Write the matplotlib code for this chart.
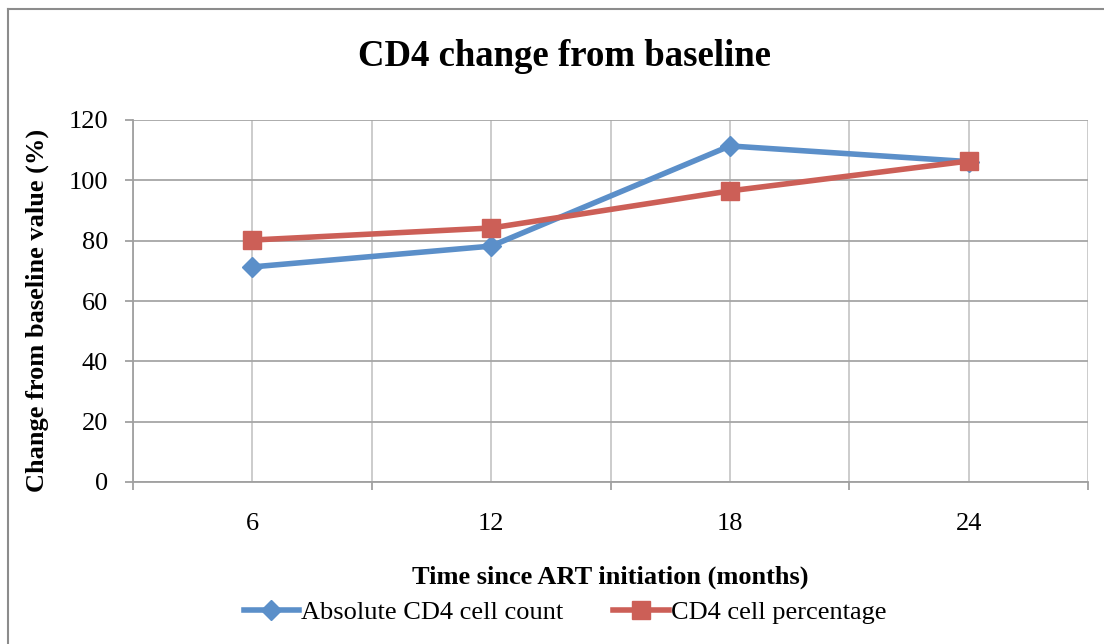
import numpy as np
import matplotlib.pyplot as plt
from matplotlib.lines import Line2D

# Data
months = ['6', '12', '18', '24']
abs_cd4 = [71.3, 78.2, 111.4, 106.2]
cd4_pct = [80.2, 84.2, 96.5, 106.4]

plt.rcParams['font.family'] = ['Liberation Serif', 'DejaVu Serif']

W, H = 1104, 644
fig = plt.figure(figsize=(W / 100, H / 100), dpi=100)
ax = fig.add_axes([133 / W, 1 - 482 / H, (1088 - 133) / W, (482 - 120) / H])

x = np.arange(len(months))
ax.plot(x, abs_cd4, color='#5b8fc9', lw=4, marker='D', ms=10,
        label='Absolute CD4 cell count', zorder=3)
ax.plot(x, cd4_pct, color='#cc5f57', lw=4, marker='s', ms=13,
        label='CD4 cell percentage', zorder=4)

ax.set_xlim(-0.5, len(months) - 0.5)
ax.set_ylim(0, 120)
ax.set_yticks(np.arange(0, 121, 20))
ax.set_xticks(x)
ax.set_xticklabels(months)
ax.set_xticks(np.arange(-0.5, len(months)), minor=True)

# gridlines
ax.grid(True, axis='y', color='#a6a6a6', lw=1.3)
ax.grid(True, axis='x', which='both', color='#c8c8c8', lw=1.3)
ax.set_axisbelow(True)

for s in ['top', 'right']:
    ax.spines[s].set_visible(False)
for s in ['left', 'bottom']:
    ax.spines[s].set_color('#a0a0a0')
    ax.spines[s].set_linewidth(1.3)

ax.tick_params(axis='x', which='major', length=0, pad=22, labelsize=19)
ax.tick_params(axis='x', which='minor', length=6, width=1.3, color='#a0a0a0')
ax.tick_params(axis='y', length=6, width=1.3, color='#a0a0a0', labelsize=19, pad=12)

ax.set_xlabel('Time since ART initiation (months)', fontsize=19, fontweight='bold')
ax.set_ylabel('Change from baseline value (%)', fontsize=19, fontweight='bold')
ax.xaxis.set_label_coords(0.5, (482 - 566) / 362)
ax.yaxis.set_label_coords((49 - 133) / 955, 0.475)

fig.text(564 / W, 1 - 57 / H, 'CD4 change from baseline', ha='center', va='center',
         fontsize=26.5, fontweight='bold')

fig.legend(loc='center', bbox_to_anchor=(565 / W, 1 - 612 / H), ncol=2, frameon=False,
           fontsize=19, handlelength=2.1, columnspacing=1.9, handletextpad=0.08)

# outer chart border (left and top visible)
fig.add_artist(Line2D([7.5 / W, 7.5 / W], [0, 1 - 9 / H], transform=fig.transFigure,
                      color='#8c8c8c', lw=1.5))
fig.add_artist(Line2D([7.5 / W, 1], [1 - 9 / H, 1 - 9 / H], transform=fig.transFigure,
                      color='#8c8c8c', lw=1.5))

plt.savefig('out.png', dpi=100)
